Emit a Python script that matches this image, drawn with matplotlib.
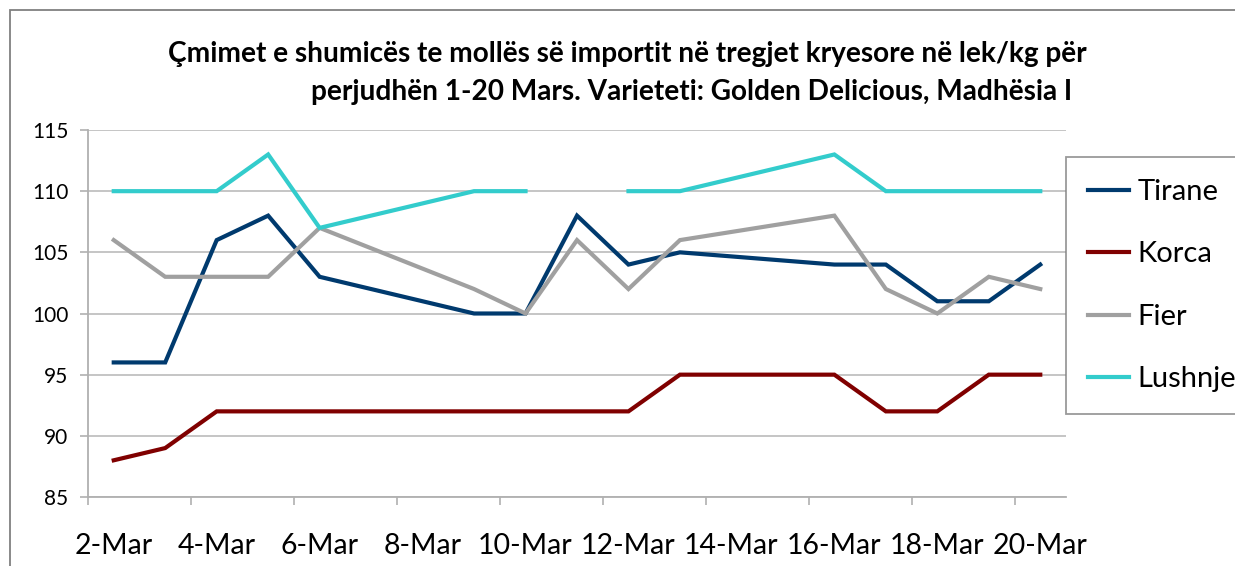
import matplotlib
matplotlib.use("Agg")
import matplotlib.pyplot as plt
import numpy as np
from matplotlib.patches import Rectangle

# ---- data ----
days = [2, 3, 4, 5, 6, 9, 10, 11, 12, 13, 16, 17, 18, 19, 20]
tirane = [96, 96, 106, 108, 103, 100, 100, 108, 104, 105, 104, 104, 101, 101, 104]
korca = [88, 89, 92, 92, 92, 92, 92, 92, 92, 95, 95, 92, 92, 95, 95]
fier = [106, 103, 103, 103, 107, 102, 100, 106, 102, 106, 108, 102, 100, 103, 102]
lushnje = [110, 110, 110, 113, 107, 110, 110, np.nan, 110, 110, 113, 110, 110, 110, 110]
series_names = ["Tirane", "Korca", "Fier", "Lushnje"]
series_colors = ["#003a6e", "#800000", "#a0a0a0", "#33cccc"]
xtick_labels = ["2-Mar", "4-Mar", "6-Mar", "8-Mar", "10-Mar", "12-Mar",
                "14-Mar", "16-Mar", "18-Mar", "20-Mar"]
yticks = [85, 90, 95, 100, 105, 110, 115]
title1 = "Çmimet e shumicës te mollës së importit në tregjet kryesore në lek/kg për"
title2 = "perjudhën 1-20 Mars. Varieteti: Golden Delicious, Madhësia I"

FONT = "Lato"
W, H = 1235, 566
fig = plt.figure(figsize=(W / 100, H / 100), dpi=100)
ax = fig.add_axes([88 / W, 1 - 497 / H, (1066 - 88) / W, (497 - 130) / H])

for vals, name, col in zip([tirane, korca, fier, lushnje], series_names, series_colors):
    ax.plot(days, vals, color=col, lw=3.0, label=name, solid_joinstyle="miter")

ax.set_xlim(1.5, 20.5)
ax.set_ylim(85, 115)
ax.set_yticks(yticks)
ax.set_yticklabels([str(v) for v in yticks], fontfamily=FONT, fontsize=15)
ax.grid(axis="y", color="#c0c0c0", lw=1.3)
ax.set_axisbelow(True)

label_pos = [int(s.split("-")[0]) for s in xtick_labels]
ax.set_xticks(label_pos)
ax.set_xticklabels(xtick_labels, fontfamily=FONT, fontsize=20.5)
ax.tick_params(axis="x", length=0, pad=26)
ax.set_xticks(np.arange(1.5, 20.0, 2.0), minor=True)
ax.tick_params(axis="x", which="minor", length=6, width=1.2, color="#b0b0b0", direction="out")
ax.tick_params(axis="y", which="major", length=6, width=1.2, color="#b0b0b0", pad=8)

for s in ["top", "right"]:
    ax.spines[s].set_visible(False)
for s in ["left", "bottom"]:
    ax.spines[s].set_color("#b0b0b0")
    ax.spines[s].set_linewidth(1.3)

leg = fig.legend(loc="upper left", bbox_to_anchor=(1066 / W, 1 - 157 / H),
                 prop={"family": FONT, "size": 21}, frameon=True, fancybox=False,
                 handlelength=1.4, handletextpad=0.3, labelspacing=1.25,
                 borderpad=0.75, borderaxespad=0)
leg.get_frame().set_edgecolor("#808080")
leg.get_frame().set_linewidth(1.3)

fig.text(627 / W, 1 - 62 / H, title1, ha="center", va="baseline",
         fontfamily=FONT, fontweight="bold", fontsize=20.2)
fig.text(1072 / W, 1 - 100 / H, title2, ha="right", va="baseline",
         fontfamily=FONT, fontweight="bold", fontsize=20.2)

fig.patches.append(Rectangle((10 / W, -0.1), 1.2, 1 - 10 / H + 0.1, transform=fig.transFigure,
                             fill=False, edgecolor="#808080", lw=1.3))

fig.savefig("out.png", dpi=100)
